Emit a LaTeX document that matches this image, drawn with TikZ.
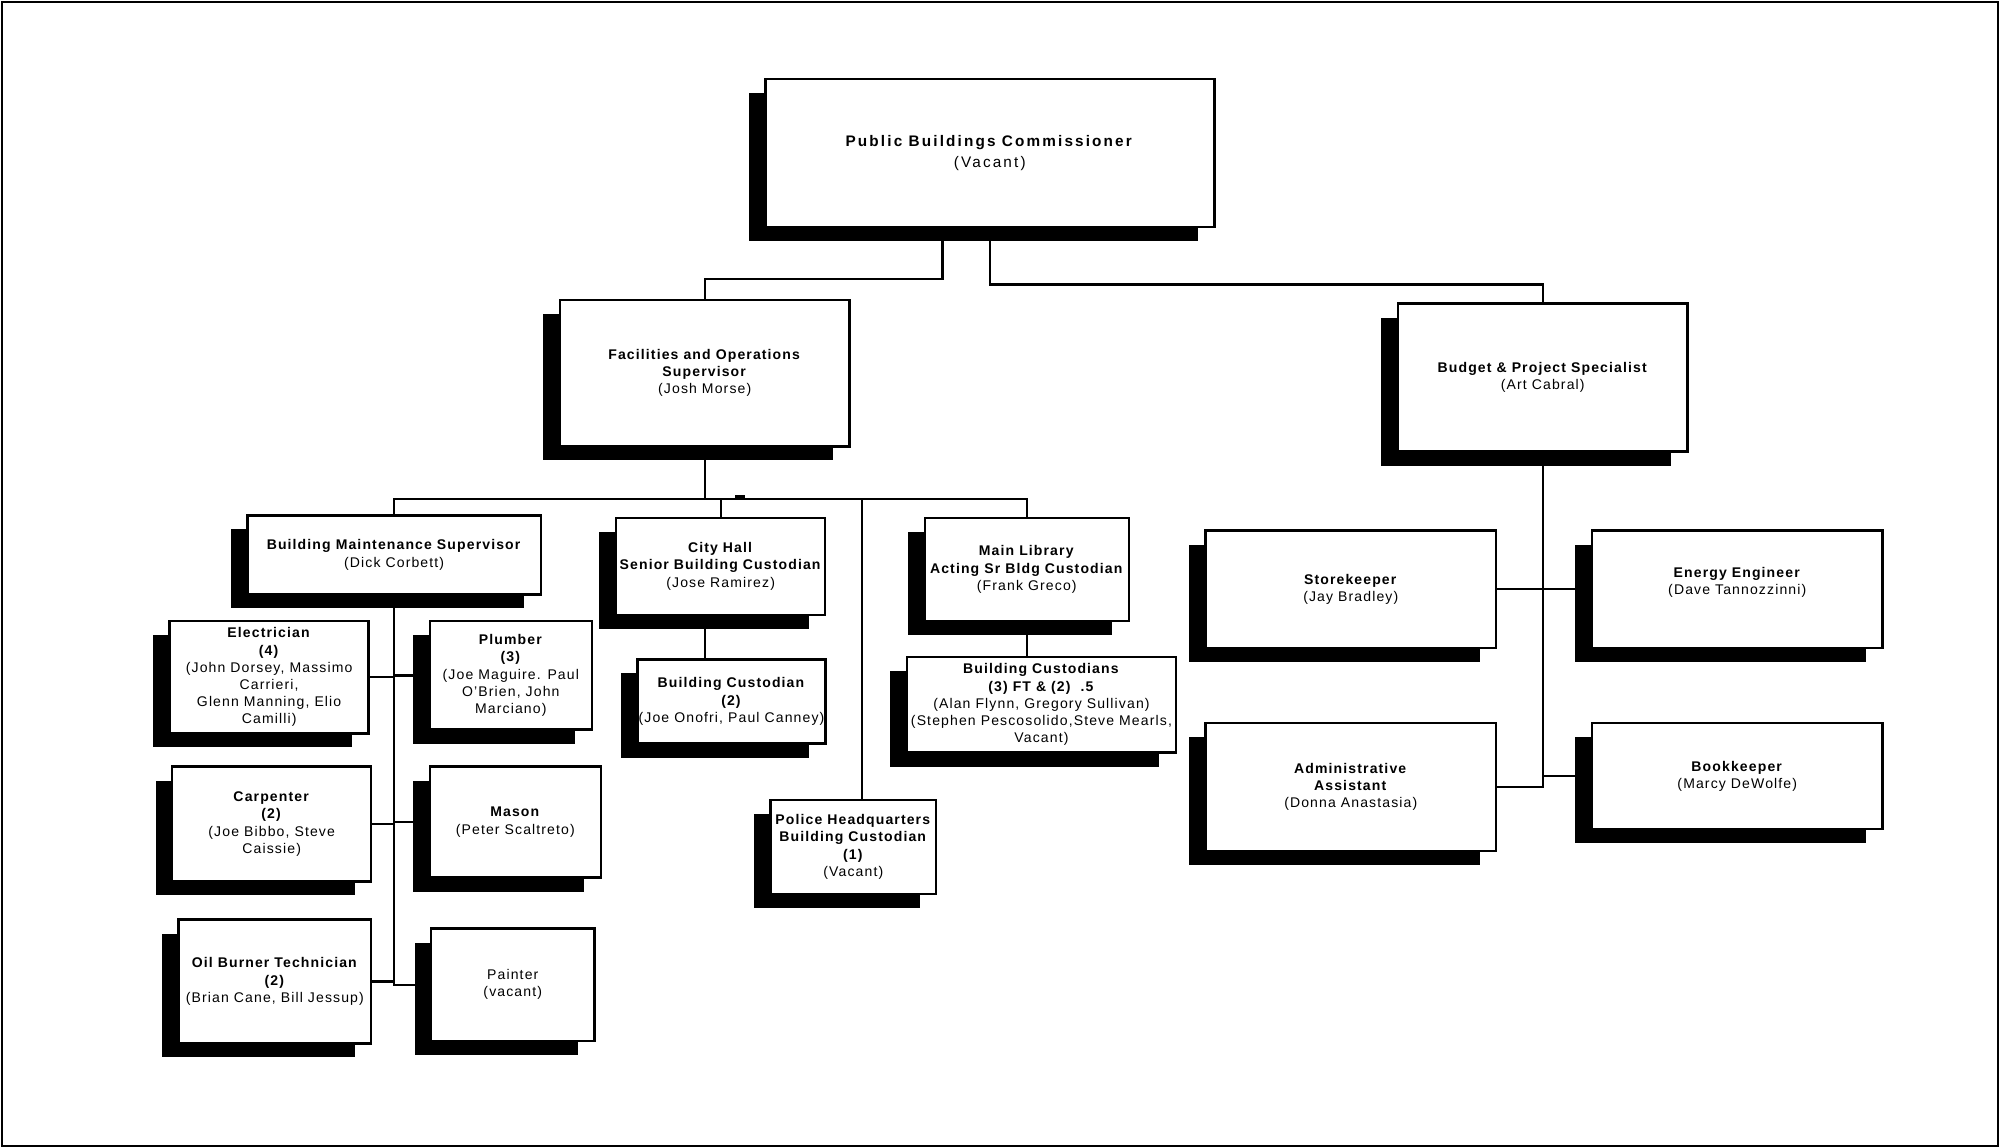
\documentclass[tikz,border=0pt]{standalone}
\usepackage{fontspec}
\setmainfont{Liberation Sans}[LetterSpace=8]
\usetikzlibrary{shadows}

\begin{document}
\begin{tikzpicture}[
  x=1pt, y=-1pt,
  orgbox/.style={draw, line width=1.9pt, fill=white, align=center, inner sep=1pt,
    font=\fontsize{11}{13.5}\selectfont,
    general shadow={fill=black, shadow xshift=-13pt, shadow yshift=-11pt}},
  boxsize/.style 2 args={minimum width=#1pt, minimum height=#2pt},
  link/.style={line width=1.8pt},
]
\useasboundingbox (0,0) rectangle (1568,900);
\draw[line width=1.2pt] (1.5,1.5) rectangle (1566.5,898.5);

\node[orgbox, boxsize={352}{116}, font=\fontsize{12}{17}\selectfont\addfontfeatures{LetterSpace=14}] (comm) at (776,120)
  {\textbf{Public Buildings Commissioner}\\(Vacant)};
\node[orgbox, boxsize={227}{115}] (fac) at (552.5,292.5)
  {\textbf{Facilities and Operations}\\\textbf{Supervisor}\\(Josh Morse)};
\node[orgbox, boxsize={227}{116}] (budget) at (1209.5,296)
  {\textbf{Budget \& Project Specialist}\\(Art Cabral)};

\node[orgbox, boxsize={230}{62}] (bms) at (309,435)
  {\textbf{Building Maintenance Supervisor}\\(Dick Corbett)};
\node[orgbox, boxsize={164}{76}] (cityhall) at (565,444)
  {\textbf{City Hall}\\\textbf{Senior Building Custodian}\\(Jose Ramirez)};
\node[orgbox, boxsize={160}{81}] (mainlib) at (805,446.5)
  {\textbf{Main Library}\\\textbf{Acting Sr Bldg Custodian}\\(Frank Greco)};
\node[orgbox, boxsize={147}{66}] (bcust) at (573.5,550)
  {\textbf{Building Custodian}\\\textbf{(2)}\\(Joe Onofri, Paul Canney)};
\node[orgbox, boxsize={211}{75}] (libcust) at (816.5,552.5)
  {\textbf{Building Custodians}\\\textbf{(3) FT \& (2) \ .5}\\(Alan Flynn, Gregory Sullivan)\\(Stephen Pescosolido,Steve Mearls,\\Vacant)};
\node[orgbox, boxsize={130}{74}] (police) at (669,664)
  {\textbf{Police Headquarters}\\\textbf{Building Custodian}\\\textbf{(1)}\\(Vacant)};

\node[orgbox, boxsize={156}{88}] (elec) at (211,531)
  {\textbf{Electrician}\\\textbf{(4)}\\(John Dorsey, Massimo\\Carrieri,\\Glenn Manning, Elio\\Camilli)};
\node[orgbox, boxsize={127}{85}] (plumber) at (400.5,529.5)
  {\textbf{Plumber}\\\textbf{(3)}\\(Joe Maguire. Paul\\O'Brien, John\\Marciano)};
\node[orgbox, boxsize={156}{90}] (carp) at (213,646)
  {\textbf{Carpenter}\\\textbf{(2)}\\(Joe Bibbo, Steve\\Caissie)};
\node[orgbox, boxsize={134}{87}] (mason) at (404,644.5)
  {\textbf{Mason}\\(Peter Scaltreto)};
\node[orgbox, boxsize={151}{97}] (oil) at (215.5,769.5)
  {\textbf{Oil Burner Technician}\\\textbf{(2)}\\(Brian Cane, Bill Jessup)};
\node[orgbox, boxsize={128}{88}] (painter) at (402,772)
  {Painter\\(vacant)};

\node[orgbox, boxsize={228}{92}] (store) at (1059,462)
  {\textbf{Storekeeper}\\(Jay Bradley)};
\node[orgbox, boxsize={228}{92}] (energy) at (1362,462)
  {\textbf{Energy Engineer}\\(Dave Tannozzinni)\\[0pt]};
\node[orgbox, boxsize={228}{100}] (admin) at (1059,617)
  {\textbf{Administrative}\\\textbf{Assistant}\\(Donna Anastasia)};
\node[orgbox, boxsize={228}{83}] (book) at (1362,608.5)
  {\textbf{Bookkeeper}\\(Marcy DeWolfe)};

\coordinate (bus) at ([yshift=-40pt]fac.south);

\draw[link] ([xshift=-37pt]comm.south) -- ++(0,40) -| (fac.north);
\draw[link] (comm.south) -- ++(0,44) -| (budget.north);
\draw[link] (fac.south) -- (bus);
\draw[link] (bms.north) |- (bus) -| (mainlib.north);
\draw[link] (cityhall.north) |- (bus);
\draw[link] ([xshift=7pt]police.north) |- (bus);
\fill (576,388) rectangle (584,392);
\draw[link] (cityhall.south -| fac.south) -- (bcust.north -| fac.south);
\draw[link] (mainlib.south) -- (mainlib.south |- libcust.north);

\draw[link] (bms.south) |- (painter.west);
\foreach \n in {elec, carp, oil}
  \draw[link] (\n.east) -- (\n.east -| bms.south);
\foreach \n in {plumber, mason}
  \draw[link] (\n.west) -- (\n.west -| bms.south);

\draw[link] (budget.south) |- (admin.east);
\draw[link] (store.east) -- (energy.west);
\draw[link] (book.west) -- (book.west -| budget.south);
\end{tikzpicture}
\end{document}
